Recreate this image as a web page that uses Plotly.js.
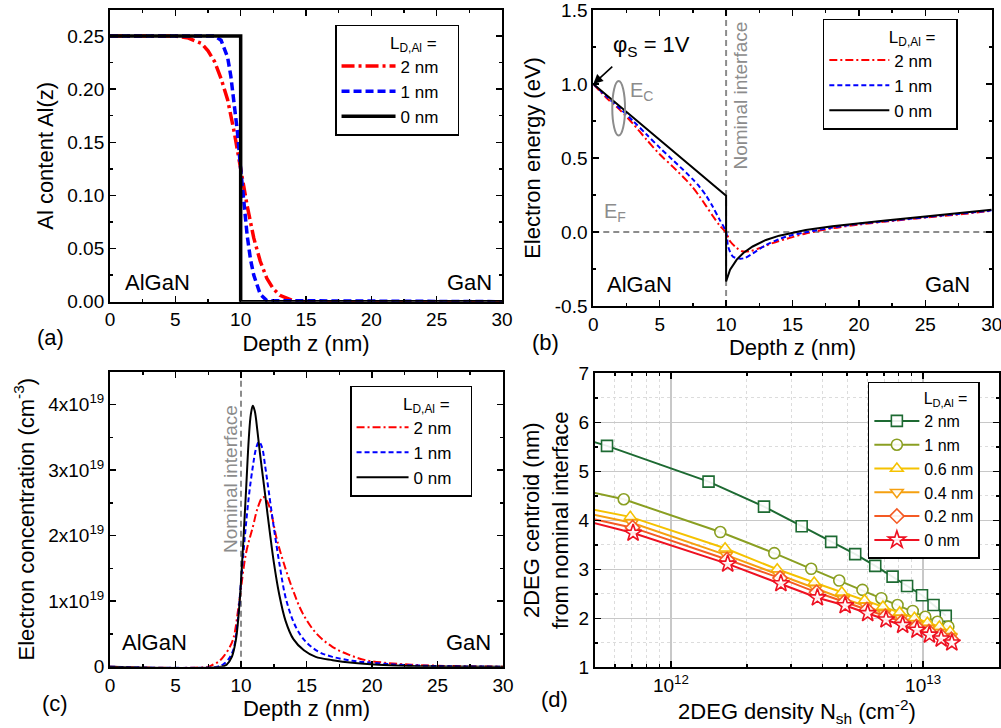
<!DOCTYPE html>
<html><head><meta charset="utf-8">
<script src="https://cdn.plot.ly/plotly-3.0.1.min.js"></script>
<style>html,body{margin:0;padding:0;background:#fff}#chart{width:1001px;height:728px}</style>
</head><body><div id="chart"></div>
<script>
// ---------- (a) Al content ----------
const zA2 = [0, 5, 6, 7, 7.5, 8, 8.5, 9, 9.5, 10, 10.5, 11, 11.5, 12, 12.5, 13, 14, 15, 30];
const alA2 = [0.25, 0.25, 0.248, 0.243, 0.236, 0.226, 0.21, 0.19, 0.16, 0.125, 0.09, 0.06, 0.038, 0.022, 0.012, 0.006, 0.001, 0, 0];
const zA1 = [0, 8, 8.5, 9, 9.25, 9.5, 9.75, 10, 10.25, 10.5, 10.75, 11, 11.5, 12, 30];
const alA1 = [0.25, 0.25, 0.246, 0.23, 0.212, 0.188, 0.16, 0.125, 0.09, 0.062, 0.04, 0.025, 0.007, 0.001, 0];
const zA0 = [0, 10, 10, 30];
const alA0 = [0.25, 0.25, 0, 0];

// ---------- (b) Electron energy ----------
const zB2 = [0, 1, 2, 3, 4, 5, 6, 7, 7.5, 8, 8.5, 9, 9.5, 10, 10.3, 10.8, 11.2, 11.8, 12.5, 13.5, 14.8, 16, 18, 20, 22, 25, 28, 30];
const eB2 = [1.0, 0.905, 0.825, 0.73, 0.625, 0.525, 0.44, 0.35, 0.30, 0.24, 0.175, 0.108, 0.045, -0.005, -0.063, -0.108, -0.13, -0.13, -0.11, -0.075, -0.04, -0.01, 0.025, 0.05, 0.07, 0.097, 0.123, 0.143];
const zB1 = [0, 1, 2, 3, 4, 5, 6, 7, 7.5, 8, 8.5, 9, 9.5, 10, 10.15, 10.5, 11, 11.4, 12, 13, 14, 14.8, 16, 18, 20, 22, 25, 28, 30];
const eB1 = [1.0, 0.915, 0.835, 0.75, 0.66, 0.57, 0.485, 0.4, 0.355, 0.305, 0.245, 0.17, 0.085, 0.0, -0.097, -0.165, -0.18, -0.176, -0.145, -0.088, -0.048, -0.025, -0.002, 0.03, 0.055, 0.073, 0.1, 0.127, 0.146];
const zB0 = [0, 10, 10, 10.3, 10.8, 11.3, 12, 13, 14, 15, 16, 18, 20, 22, 25, 28, 30];
const eB0 = [1.0, 0.245, -0.335, -0.255, -0.187, -0.142, -0.098, -0.054, -0.025, -0.004, 0.013, 0.038, 0.06, 0.078, 0.105, 0.13, 0.15];
const bTickVals = [-0.5, 0, 0.5, 1, 1.5];
const bTickText = ['-0.5', '0.0', '0.5', '1.0', '1.5'];

// ---------- (c) Electron concentration (units of 1e19 cm^-3) ----------
const zC2 = [0, 7.5, 7.85, 8.3, 8.6, 9.0, 9.4, 9.87, 10.38, 10.9, 11.3, 11.68, 12.0, 12.3, 12.69, 13.2, 13.96, 14.72, 15.74, 17.0, 18.27, 19.5, 21, 23, 25, 30];
const nC2 = [0, 0, 0.03, 0.08, 0.14, 0.25, 0.42, 1.0, 1.73, 2.13, 2.44, 2.59, 2.52, 2.35, 1.98, 1.62, 1.17, 0.81, 0.51, 0.3, 0.18, 0.1, 0.06, 0.03, 0.015, 0];
const zC1 = [0, 8.2, 8.6, 9.0, 9.4, 9.75, 10.0, 10.3, 10.6, 10.9, 11.15, 11.37, 11.6, 11.85, 12.1, 12.45, 12.95, 13.45, 14.2, 15.0, 16.0, 17.0, 18.5, 20, 22, 25, 30];
const nC1 = [0, 0, 0.03, 0.1, 0.25, 0.7, 1.3, 2.0, 2.6, 3.05, 3.33, 3.43, 3.35, 3.05, 2.7, 2.2, 1.55, 1.02, 0.6, 0.37, 0.22, 0.15, 0.09, 0.06, 0.03, 0.01, 0];
const zC0 = [0, 8.5, 8.9, 9.3, 9.6, 9.8, 10.0, 10.2, 10.4, 10.6, 10.75, 10.9, 11.05, 11.25, 11.45, 11.7, 11.95, 12.2, 12.5, 12.9, 13.4, 14.0, 14.8, 15.7, 17, 18.5, 20.5, 23, 30];
const nC0 = [0, 0, 0.03, 0.15, 0.4, 0.75, 1.3, 2.0, 2.75, 3.5, 3.85, 3.98, 3.9, 3.6, 3.25, 2.85, 2.45, 2.05, 1.6, 1.12, 0.7, 0.42, 0.25, 0.15, 0.1, 0.06, 0.03, 0.01, 0];
const cTickVals = [0, 1, 2, 3, 4];
const cTickText = ['0', '1x10<sup>19</sup>', '2x10<sup>19</sup>', '3x10<sup>19</sup>', '4x10<sup>19</sup>'];

// ---------- (d) 2DEG centroid vs density ----------
const N_2 = [4.5e11, 5.58e11, 1.41e12, 2.34e12, 3.30e12, 4.32e12, 5.38e12, 6.46e12, 7.57e12, 8.64e12, 9.9e12, 1.10e13, 1.23e13];
const c_2 = [5.66, 5.52, 4.79, 4.28, 3.88, 3.56, 3.31, 3.07, 2.85, 2.66, 2.47, 2.27, 2.05];
const N_1 = [4.5e11, 6.5e11, 1.57e12, 2.57e12, 3.6e12, 4.65e12, 5.75e12, 6.83e12, 7.92e12, 9.1e12, 1.02e13, 1.14e13, 1.26e13];
const c_1 = [4.61, 4.43, 3.76, 3.33, 3.01, 2.77, 2.58, 2.41, 2.27, 2.15, 2.03, 1.93, 1.83];
const N_06 = [4.5e11, 6.9e11, 1.64e12, 2.64e12, 3.70e12, 4.76e12, 5.86e12, 6.93e12, 8.07e12, 9.24e12, 1.04e13, 1.16e13, 1.28e13];
const c_06 = [4.26, 4.07, 3.43, 3.00, 2.73, 2.53, 2.37, 2.24, 2.12, 2.01, 1.91, 1.83, 1.73];
const N_04 = [4.5e11, 7.0e11, 1.66e12, 2.68e12, 3.75e12, 4.83e12, 5.94e12, 7.03e12, 8.18e12, 9.35e12, 1.05e13, 1.17e13, 1.29e13];
const c_04 = [4.16, 3.95, 3.29, 2.89, 2.61, 2.40, 2.25, 2.10, 2.00, 1.89, 1.80, 1.71, 1.63];
const N_02 = [4.5e11, 7.05e11, 1.67e12, 2.71e12, 3.78e12, 4.87e12, 5.99e12, 7.08e12, 8.24e12, 9.40e12, 1.055e13, 1.175e13, 1.295e13];
const c_02 = [4.07, 3.85, 3.20, 2.82, 2.53, 2.33, 2.18, 2.04, 1.93, 1.83, 1.73, 1.65, 1.57];
const N_0 = [4.5e11, 7.08e11, 1.68e12, 2.73e12, 3.81e12, 4.91e12, 6.03e12, 7.13e12, 8.30e12, 9.46e12, 1.06e13, 1.18e13, 1.30e13];
const c_0 = [4.00, 3.74, 3.11, 2.71, 2.42, 2.26, 2.10, 1.97, 1.86, 1.76, 1.66, 1.58, 1.50];
const dNames = ['2 nm', '1 nm', '0.6 nm', '0.4 nm', '0.2 nm', '0 nm'];
const dColors = ['#1d6a32', '#8a9f22', '#f5c200', '#f5a010', '#f45a24', '#ee1122'];
const dSymbols = ['square', 'circle', 'triangle-up', 'triangle-down', 'diamond', 'star'];
const dTickVals = [1e12, 1e13];
const dTickText = ['10<sup>12</sup>', '10<sup>13</sup>'];
const bNames = ['2 nm', '1 nm', '0 nm'];

const FONT = 'Liberation Sans, Arial, sans-serif';
const RED = '#ff0000', BLUE = '#0000ff', BLACK = '#000000', GREY = '#8c8c8c';
const pad = n => '\u00a0'.repeat(n);

const traces = [];
// (a)
traces.push({x: zA2, y: alA2, xaxis: 'x', yaxis: 'y', name: bNames[0] + pad(3), legend: 'legend', mode: 'lines', line: {color: RED, width: 3.5, dash: '13px,4px,3px,4px'}});
traces.push({x: zA1, y: alA1, xaxis: 'x', yaxis: 'y', name: bNames[1] + pad(3), legend: 'legend', mode: 'lines', line: {color: BLUE, width: 3.5, dash: '8px,4px'}});
traces.push({x: zA0, y: alA0, xaxis: 'x', yaxis: 'y', name: bNames[2] + pad(3), legend: 'legend', mode: 'lines', line: {color: BLACK, width: 3.5}});
// (b)
traces.push({x: zB2, y: eB2, xaxis: 'x2', yaxis: 'y2', name: bNames[0] + pad(4), legend: 'legend2', mode: 'lines', line: {color: RED, width: 2, dash: '8px,3px,2px,3px', shape: 'spline', smoothing: 0.8}});
traces.push({x: zB1, y: eB1, xaxis: 'x2', yaxis: 'y2', name: bNames[1] + pad(4), legend: 'legend2', mode: 'lines', line: {color: BLUE, width: 2, dash: '5px,3px', shape: 'spline', smoothing: 0.8}});
traces.push({x: zB0, y: eB0, xaxis: 'x2', yaxis: 'y2', name: bNames[2] + pad(4), legend: 'legend2', mode: 'lines', line: {color: BLACK, width: 2}});
// (c)
traces.push({x: zC2, y: nC2, xaxis: 'x3', yaxis: 'y3', name: bNames[0] + pad(3), legend: 'legend3', mode: 'lines', line: {color: RED, width: 2, dash: '8px,3px,2px,3px', shape: 'spline'}});
traces.push({x: zC1, y: nC1, xaxis: 'x3', yaxis: 'y3', name: bNames[1] + pad(3), legend: 'legend3', mode: 'lines', line: {color: BLUE, width: 2, dash: '5px,3px', shape: 'spline'}});
traces.push({x: zC0, y: nC0, xaxis: 'x3', yaxis: 'y3', name: bNames[2] + pad(3), legend: 'legend3', mode: 'lines', line: {color: BLACK, width: 2, shape: 'spline'}});
// (d)
const dX = [N_2, N_1, N_06, N_04, N_02, N_0];
const dY = [c_2, c_1, c_06, c_04, c_02, c_0];
for (let i = 0; i < 6; i++) {
  traces.push({x: dX[i], y: dY[i], xaxis: 'x4', yaxis: 'y4', name: dNames[i], legend: 'legend4', mode: 'lines+markers',
    line: {color: dColors[i], width: 2},
    marker: {symbol: dSymbols[i], size: dSymbols[i] === 'star' ? 13 : 11, color: 'rgba(255,255,255,0.9)', line: {color: dColors[i], width: 1.6}}});
}

function axisBase(extra) {
  return Object.assign({
    showline: true, linecolor: '#000', linewidth: 2, mirror: 'ticks',
    ticks: 'inside', ticklen: 6, tickwidth: 1.5, tickcolor: '#000',
    showgrid: false, zeroline: false, ticklabeloverflow: 'allow',
    tickfont: {family: FONT, size: 19, color: '#000'}
  }, extra);
}
const titleFont = {family: FONT, size: 22, color: '#000'};
const legendBase = (x, y, iw, fs, tp) => ({
  x: x, y: y, xanchor: 'left', yanchor: 'top', xref: 'paper', yref: 'paper',
  bgcolor: '#fff', bordercolor: '#000', borderwidth: 1.5,
  font: {family: FONT, size: fs, color: '#000'},
  title: {text: 'L<sub>D,Al</sub> =' + pad(tp), side: 'top right', font: {family: FONT, size: fs, color: '#000'}},
  itemwidth: iw, tracegroupgap: 0
});
const ann = (xref, yref, x, y, text, size, color, extra) => Object.assign({
  xref: xref, yref: yref, x: x, y: y, text: text, showarrow: false, xanchor: 'center', yanchor: 'middle',
  font: {family: FONT, size: size, color: color || '#000'}
}, extra || {});

const layout = {
  width: 1001, height: 728,
  margin: {l: 0, r: 0, t: 0, b: 0},
  paper_bgcolor: '#fff', plot_bgcolor: 'rgba(0,0,0,0)',
  font: {family: FONT, color: '#000'},
  xaxis: axisBase({domain: [0.1099, 0.5015], anchor: 'y', range: [0, 30], dtick: 5, minor: {ticks: 'inside', ticklen: 3, dtick: 2.5, tickcolor: '#000'},
    title: {text: 'Depth z (nm)', font: titleFont, standoff: 6}}),
  yaxis: axisBase({domain: [0.5856, 0.9863], anchor: 'x', range: [0, 0.2745], dtick: 0.05, tickformat: '.2f', minor: {ticks: 'inside', ticklen: 3, dtick: 0.025, tickcolor: '#000'},
    title: {text: 'Al content Al(z)', font: titleFont, standoff: 8}}),
  xaxis2: axisBase({domain: [0.5927, 0.9907], anchor: 'y2', range: [0, 30], dtick: 5, minor: {ticks: 'inside', ticklen: 3, dtick: 2.5, tickcolor: '#000'},
    title: {text: 'Depth z (nm)', font: titleFont, standoff: 6}}),
  yaxis2: axisBase({domain: [0.5797, 0.9863], anchor: 'x2', range: [-0.5, 1.5], tickvals: bTickVals, ticktext: bTickText,
    minor: {ticks: 'inside', ticklen: 3, dtick: 0.25, tickcolor: '#000'},
    title: {text: 'Electron energy (eV)', font: titleFont, standoff: 8}}),
  xaxis3: axisBase({domain: [0.1099, 0.5025], anchor: 'y3', range: [0, 30], dtick: 5, minor: {ticks: 'inside', ticklen: 3, dtick: 2.5, tickcolor: '#000'},
    title: {text: 'Depth z (nm)', font: titleFont, standoff: 6}}),
  yaxis3: axisBase({domain: [0.0842, 0.4894], anchor: 'x3', range: [0, 4.5], tickvals: cTickVals, ticktext: cTickText,
    minor: {ticks: 'inside', ticklen: 3, dtick: 0.5, tickcolor: '#000'},
    title: {text: 'Electron concentration (cm<sup>-3</sup>)', font: titleFont, standoff: 8}}),
  xaxis4: axisBase({domain: [0.5944, 0.998], anchor: 'y4', type: 'log', range: [Math.log10(5e11), Math.log10(2e13)],
    tickvals: dTickVals, ticktext: dTickText,
    showgrid: true, gridcolor: '#c8c8c8', gridwidth: 1.5,
    minor: {ticks: 'inside', ticklen: 3, tickcolor: '#000', tickvals: [6e11, 7e11, 8e11, 9e11, 2e12, 3e12, 4e12, 5e12, 6e12, 7e12, 8e12, 9e12],
      showgrid: true, gridcolor: '#dcdcdc', griddash: 'dot', gridwidth: 1},
    title: {text: '2DEG density N<sub>sh</sub> (cm<sup>-2</sup>)', font: titleFont, standoff: 6}}),
  yaxis4: axisBase({domain: [0.0834, 0.4872], anchor: 'x4', range: [1, 7], dtick: 1,
    showgrid: true, gridcolor: '#c8c8c8', gridwidth: 1.5,
    minor: {ticks: 'inside', ticklen: 3, dtick: 0.5, tickcolor: '#000', showgrid: true, gridcolor: '#dcdcdc', griddash: 'dot', gridwidth: 1}}),
  legend: legendBase(0.3347, 0.9657, 54, 17, 4),
  legend2: legendBase(0.822, 0.974, 60, 17, 4),
  legend3: legendBase(0.3497, 0.4698, 52, 17, 4),
  legend4: legendBase(0.867, 0.4757, 45, 16, 2),
  shapes: [
    {type: 'line', xref: 'x2', yref: 'y2', x0: 0, x1: 30, y0: 0, y1: 0, line: {color: GREY, width: 2, dash: '6px,4px'}, layer: 'below'},
    {type: 'line', xref: 'x2', yref: 'y2', x0: 10, x1: 10, y0: -0.5, y1: 1.5, line: {color: GREY, width: 2, dash: '6px,4px'}, layer: 'below'},
    {type: 'line', xref: 'x3', yref: 'y3', x0: 10, x1: 10, y0: 0, y1: 4.5, line: {color: GREY, width: 2, dash: '6px,4px'}, layer: 'below'},
    {type: 'circle', xref: 'x2', yref: 'y2', x0: 1.43, x1: 2.39, y0: 0.652, y1: 1.02, line: {color: GREY, width: 2}}
  ],
  annotations: [
    ann('x', 'y', 3.6, 0.0185, 'AlGaN', 22),
    ann('x', 'y', 27.5, 0.0185, 'GaN', 22),
    ann('x2', 'y2', 3.5, -0.356, 'AlGaN', 22),
    ann('x2', 'y2', 26.7, -0.356, 'GaN', 22),
    ann('x3', 'y3', 3.4, 0.376, 'AlGaN', 22),
    ann('x3', 'y3', 27.4, 0.376, 'GaN', 22),
    ann('paper', 'paper', 0.05, 0.537, '(a)', 22),
    ann('paper', 'paper', 0.5445, 0.530, '(b)', 22),
    ann('paper', 'paper', 0.055, 0.0343, '(c)', 22),
    ann('paper', 'paper', 0.5544, 0.0385, '(d)', 22),
    ann('paper', 'paper', 0.5455, 0.2857, '2DEG centroid (nm)<br>from nominal interface', 22, '#000', {textangle: -90}),
    ann('x2', 'y2', 4.42, 1.255, 'φ<sub>S</sub> = 1V', 22),
    {xref: 'x2', yref: 'y2', x: 0, y: 1.0, text: ' ', showarrow: true, ax: 22, ay: -20, arrowhead: 2, arrowsize: 1.2, arrowwidth: 1.6, arrowcolor: '#000', standoff: 0, startstandoff: 0},
    ann('x2', 'y2', 3.6, 0.95, 'E<sub>C</sub>', 20, GREY),
    ann('x2', 'y2', 1.6, 0.13, 'E<sub>F</sub>', 20, GREY),
    ann('x2', 'y2', 11.1, 0.92, 'Nominal interface', 19, GREY, {textangle: -90}),
    ann('x3', 'y3', 9.14, 2.86, 'Nominal interface', 19, GREY, {textangle: -90})
  ]
};

Plotly.newPlot('chart', traces, layout, {staticPlot: true});
</script>
</body></html>
